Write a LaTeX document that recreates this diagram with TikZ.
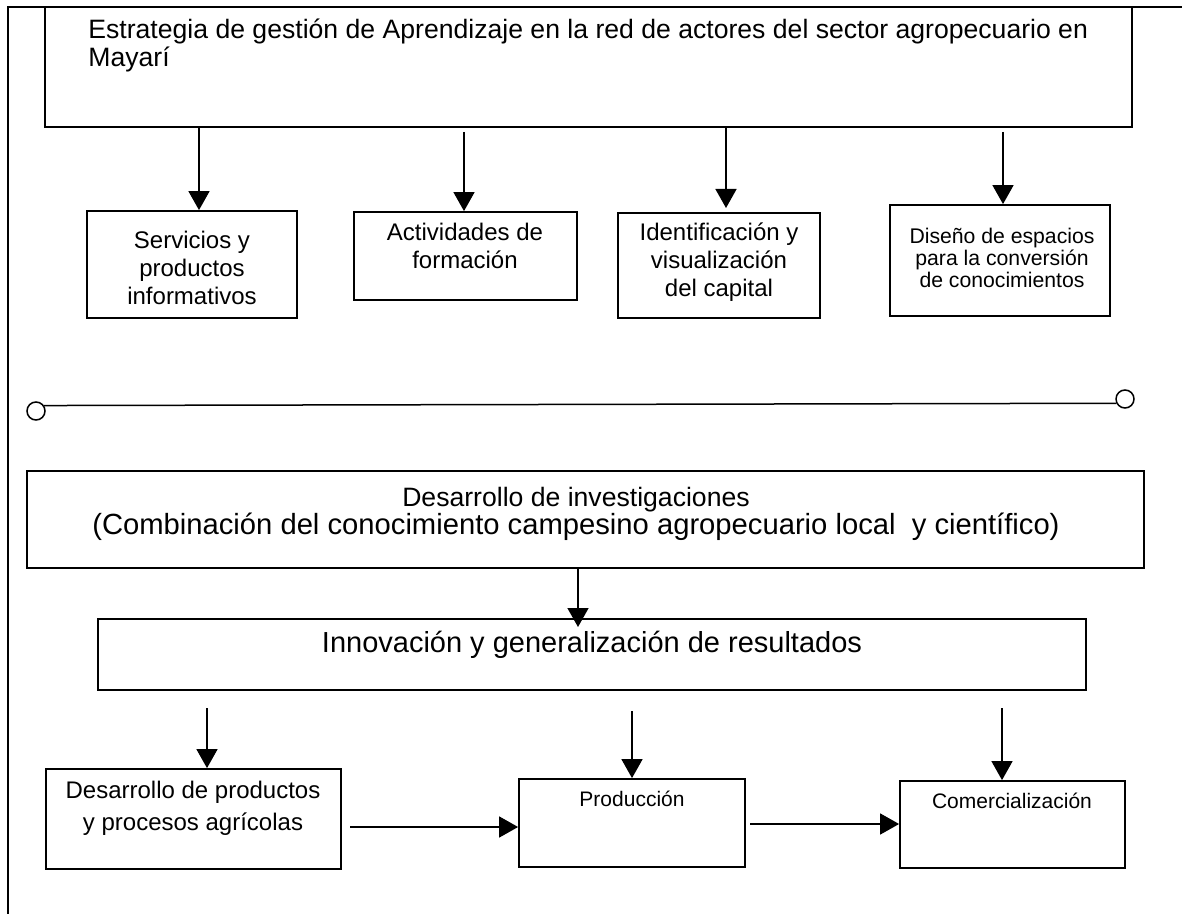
\documentclass[tikz,border=0pt]{standalone}
\usepackage{fontspec}
\setmainfont{Liberation Sans}
\usetikzlibrary{arrows.meta}
\begin{document}
\begin{tikzpicture}[x=0.5pt,y=-0.5pt,
  box/.style={draw,line width=0.9pt,inner sep=0pt},
  txt/.style={inner sep=0pt,anchor=base,align=center},
  arr/.style={line width=0.75pt,-{Triangle[width=10.5pt,length=9.5pt]}},
  ring/.style={circle,draw,line width=0.75pt,minimum size=9pt,inner sep=0pt},
  frame/.style={line width=0.75pt}]
\useasboundingbox (0,0) rectangle (1182,914);
% frame
\draw[frame] (8,914) -- (8,7) -- (1182,7);
% top box
\node[box,minimum width=543.5pt,minimum height=60pt] (top) at (588.5,67) {};
\node[inner sep=0pt,anchor=base west,align=left,font=\fontsize{13.3}{14}\selectfont] (toptxt) at (88,67)
  {Estrategia de gestión de Aprendizaje en la red de actores del sector agropecuario en\\Mayarí};
% second row boxes
\node[box,minimum width=105pt,minimum height=53.5pt] (b1) at (192,264.5) {};
\node[box,minimum width=111.5pt,minimum height=44pt] (b2) at (465.5,256) {};
\node[box,minimum width=101pt,minimum height=52.5pt] (b3) at (719,265.5) {};
\node[box,minimum width=110pt,minimum height=55.5pt] (b4) at (1000,260.5) {};
\node[txt,font=\fontsize{12}{14}\selectfont] (t1) at (192,305) {Servicios y\\productos\\informativos};
\node[txt,font=\fontsize{12}{14}\selectfont] (t2) at (465,269) {Actividades de\\formación};
\node[txt,font=\fontsize{12}{14}\selectfont] (t3) at (719,297) {Identificación y\\visualización\\del capital};
\node[txt,font=\fontsize{10.6}{11.2}\selectfont] (t4) at (1002,288) {Diseño de espacios\\para la conversión\\de conocimientos};
% arrows row 1
\coordinate (s1) at (199,127);
\coordinate (s2) at (464,132);
\coordinate (s3) at (726,127);
\coordinate (s4) at (1003,132);
\coordinate (e3) at (726,208);
\draw[arr] (s1) -- (s1 |- b1.north);
\draw[arr] (s2) -- (s2 |- b2.north);
\draw[arr] (s3) -- (e3);
\draw[arr] (s4) -- (s4 |- b4.north);
% line with rings
\node[ring] (lc) at (36,411) {};
\node[ring] (rc) at (1125,399) {};
\draw[line width=0.75pt] (lc.34) -- (rc.206);
% investigaciones
\node[box,minimum width=558.5pt,minimum height=48.5pt] (inv) at (585.5,519.5) {};
\node[txt,font=\fontsize{13.3}{14}\selectfont] (invtxt) at (576,534)
  {Desarrollo de investigaciones\\{\fontsize{14.6}{14}\selectfont(Combinación del conocimiento campesino agropecuario local~ y científico)}};
% innovacion
\node[box,minimum width=494pt,minimum height=35.5pt] (inn) at (592,654.5) {};
\node[txt,font=\fontsize{14.5}{16}\selectfont] (inntxt) at (592,652) {Innovación y generalización de resultados};
\coordinate (s5) at (578,568);
\coordinate (e5) at (578,627);
\draw[arr] (inv.south -| s5) -- (e5);
% bottom boxes
\node[box,minimum width=147.5pt,minimum height=50pt] (d) at (193.5,819) {};
\node[box,minimum width=113pt,minimum height=44pt] (p) at (632,823) {};
\node[box,minimum width=112.5pt,minimum height=43.5pt] (c) at (1012.5,824.5) {};
\node[txt,font=\fontsize{12}{16}\selectfont] (dtxt) at (193,830) {Desarrollo de productos\\y procesos agrícolas};
\node[txt,font=\fontsize{10.5}{12}\selectfont] (ptxt) at (632,806) {Producción};
\node[txt,font=\fontsize{10.5}{12}\selectfont] (ctxt) at (1012,808) {Comercialización};
% bottom arrows
\coordinate (s6) at (207,708);
\coordinate (s7) at (632,711);
\coordinate (s8) at (1002,708);
\draw[arr] (s6) -- (s6 |- d.north);
\draw[arr] (s7) -- (s7 |- p.north);
\draw[arr] (s8) -- (s8 |- c.north);
\coordinate (h1) at (350,827);
\coordinate (h2) at (750,824);
\draw[arr] (h1) -- (h1 -| p.west);
\draw[arr] (h2) -- (h2 -| c.west);
\end{tikzpicture}
\end{document}
